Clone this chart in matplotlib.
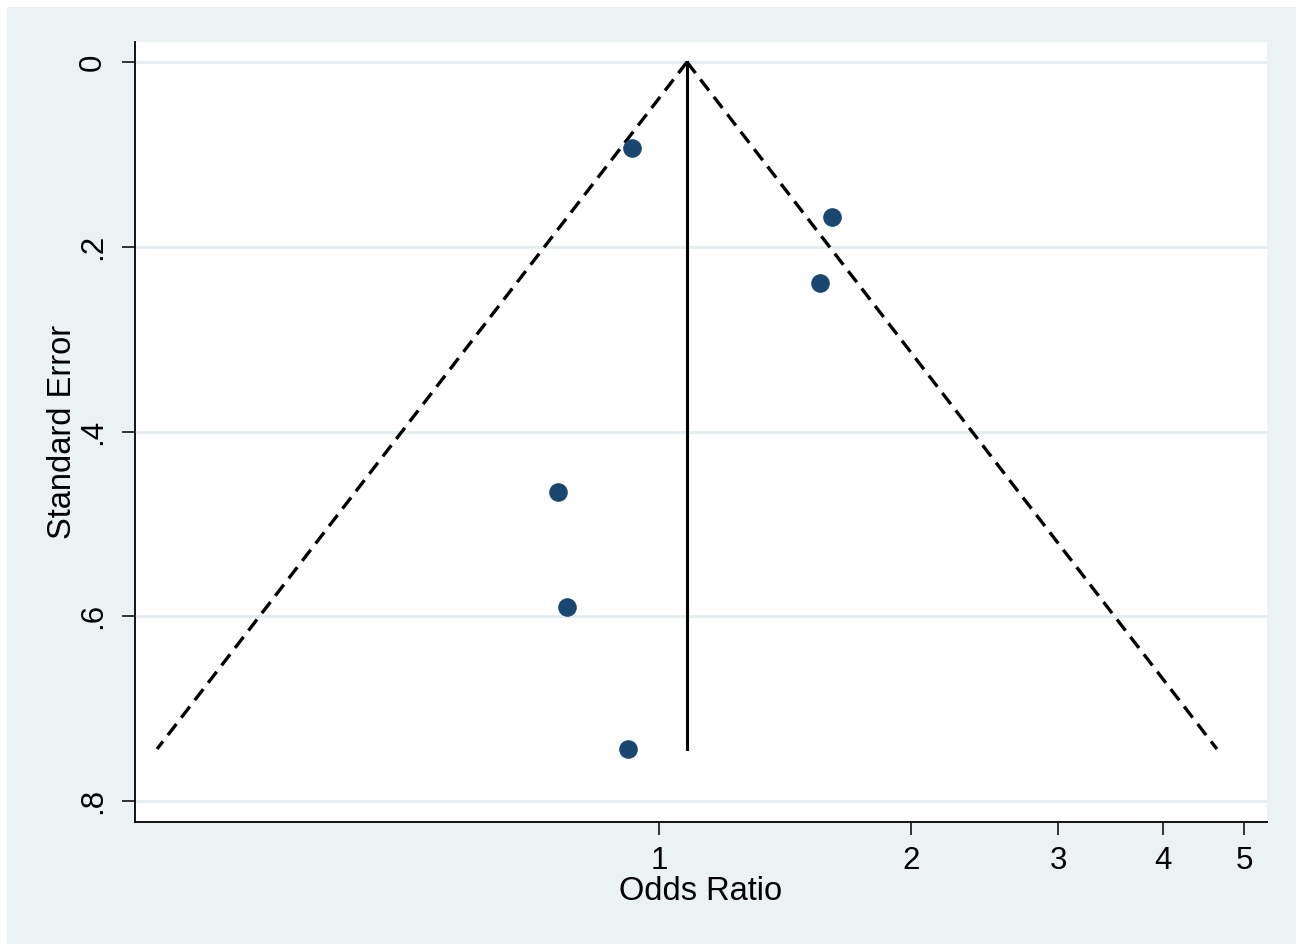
import numpy as np
import matplotlib
matplotlib.use("Agg")
import matplotlib.pyplot as plt
from matplotlib.patches import Rectangle

# Data
odds_ratio = [0.929, 1.609, 1.557, 0.757, 0.776, 0.917]
std_error = [0.093, 0.168, 0.239, 0.4655, 0.590, 0.7437]
pooled_or = 1.08
x_ticks = [1, 2, 3, 4, 5]
x_tick_labels = ["1", "2", "3", "4", "5"]
y_ticks = [0, 0.2, 0.4, 0.6, 0.8]
y_tick_labels = ["0", ".2", ".4", ".6", ".8"]

plt.rcParams['font.family'] = ['Liberation Sans', 'DejaVu Sans']

bg = "#EAF2F3"
navy = "#1A476F"
grid_c = "#E4EDF0"

fig = plt.figure(figsize=(12.96, 9.44), dpi=100, facecolor="white")
fig.patches.append(Rectangle((7/1296, 0), 1 - 7/1296, 1 - 7/944,
                             transform=fig.transFigure, facecolor=bg,
                             edgecolor="none", zorder=-10))
ax = fig.add_axes([135/1296, (944-822)/944, (1267-135)/1296, (822-42)/944])
ax.set_facecolor("white")

ax.set_xscale("log")
ax.set_xlim(0.2366, 5.325)
ax.set_ylim(0.8227, -0.0217)

# gridlines
for yt in y_ticks:
    ax.axhline(yt, color=grid_c, lw=2.2, zorder=0)

# funnel
se_max = max(std_error)
se_line = np.array([0.0, se_max])
lo = np.exp(np.log(pooled_or) - 1.96 * se_line)
hi = np.exp(np.log(pooled_or) + 1.96 * se_line)
ax.plot(lo, se_line, color="black", lw=2.4, dashes=(4.2, 2.4), zorder=2)
ax.plot(hi, se_line, color="black", lw=2.4, dashes=(4.2, 2.4), zorder=2)
ax.plot([pooled_or, pooled_or], [0, se_max], color="black", lw=2.2, zorder=2)

ax.plot(odds_ratio, std_error, "o", color=navy, ms=12.4, mec=navy, zorder=3)

ax.set_xticks(x_ticks)
ax.set_xticklabels(x_tick_labels)
ax.xaxis.set_minor_locator(matplotlib.ticker.NullLocator())
ax.set_yticks(y_ticks)
ax.set_yticklabels(y_tick_labels, rotation=90, va="center")

for s in ["top", "right"]:
    ax.spines[s].set_visible(False)
for s in ["left", "bottom"]:
    ax.spines[s].set_linewidth(1.3)
    ax.spines[s].set_color("black")

ax.tick_params(axis="both", length=9.5, width=1.1, labelsize=22.5, color="black")
ax.tick_params(axis="x", pad=8)
ax.tick_params(axis="y", pad=10)

ax.set_xlabel("Odds Ratio", fontsize=23.5, labelpad=0)
ax.set_ylabel("Standard Error", fontsize=23.5, labelpad=0)

fig.savefig("out.png", dpi=100, facecolor="white")
